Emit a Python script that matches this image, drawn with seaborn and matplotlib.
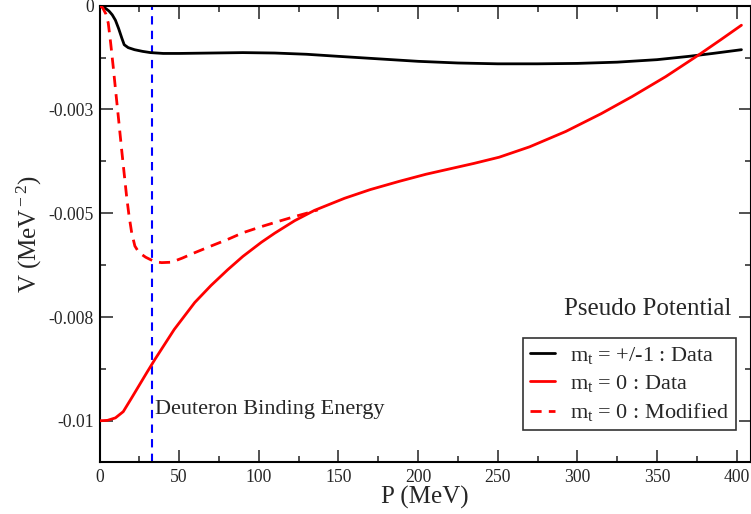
import matplotlib
matplotlib.use("Agg")
import matplotlib.pyplot as plt
import seaborn as sns
import pandas as pd
from matplotlib.ticker import MultipleLocator

# ---- data ----
p_black = [0, 2, 4, 6, 8, 10, 12, 14, 15.5, 18, 22, 27, 32, 40, 50, 70, 90, 110, 130, 150,
           175, 200, 225, 250, 275, 300, 325, 350, 370, 385, 403]
v_black = [0, -0.00002, -0.00007, -0.00013, -0.00022, -0.00035, -0.00055, -0.00078, -0.00094,
           -0.00101, -0.00106, -0.0011, -0.00113, -0.00115, -0.00115, -0.00114, -0.00113,
           -0.00114, -0.00117, -0.00122, -0.00128, -0.00134, -0.00138, -0.0014, -0.0014,
           -0.00139, -0.00136, -0.0013, -0.00122, -0.00115, -0.00106]

p_red = [0, 5, 10, 14.9, 20, 25, 30, 34.8, 46.9, 59.8, 70, 80.5, 90, 101.6, 110, 122.5, 135,
         153.8, 170, 188.3, 205, 220, 235, 250.9, 270, 292.7, 315, 334.3, 355.4, 376, 390, 403]
v_red = [-0.01, -0.00999, -0.00993, -0.00978, -0.00946, -0.00914, -0.00882, -0.00852, -0.0078,
         -0.00715, -0.00674, -0.00636, -0.00604, -0.0057, -0.00548, -0.00518, -0.00493,
         -0.00464, -0.00443, -0.00423, -0.00406, -0.00393, -0.0038, -0.00365, -0.0034,
         -0.00303, -0.0026, -0.00219, -0.00171, -0.00119, -0.00082, -0.00047]

p_mod = [0, 2, 4, 5.5, 7, 8.6, 10, 11.8, 13.9, 15.5, 17, 18.5, 20.2, 22.2, 24, 26.4, 29, 31.6,
         35, 39, 45.2, 52, 59.8, 70, 80.5, 90, 101.8, 112, 122.5, 130, 137]
v_mod = [0, -0.00005, -0.0002, -0.00042, -0.0009, -0.00147, -0.002, -0.00267, -0.00347,
         -0.00405, -0.00459, -0.00505, -0.00547, -0.00579, -0.0059, -0.00599, -0.00606,
         -0.00611, -0.00617, -0.00619, -0.00618, -0.00608, -0.00595, -0.00579, -0.00563,
         -0.00547, -0.00532, -0.0052, -0.00508, -0.005, -0.00492]

deuteron_p = 33
series_labels = [r"m$_{\rm t}$ = +/-1 : Data", r"m$_{\rm t}$ = 0 : Data", r"m$_{\rm t}$ = 0 : Modified"]
xticks = [0, 50, 100, 150, 200, 250, 300, 350, 400]
yticks = [-0.01, -0.0075, -0.005, -0.0025, 0]
ytick_labels = ["-0.01", "-0.008", "-0.005", "-0.003", "0"]

# ---- style ----
sns.set_theme(style="ticks")
plt.rcParams["font.family"] = ["Liberation Serif", "DejaVu Serif"]
plt.rcParams["mathtext.fontset"] = "custom"
plt.rcParams["mathtext.rm"] = "Liberation Serif"
plt.rcParams["mathtext.it"] = "Liberation Serif:italic"
plt.rcParams["axes.unicode_minus"] = False

fig = plt.figure(figsize=(7.51, 5.14), dpi=100)
ax = fig.add_axes([0.1325, 0.1006, 0.8675, 0.8883])

df_b = pd.DataFrame({"P": p_black, "V": v_black})
df_r = pd.DataFrame({"P": p_red, "V": v_red})
df_m = pd.DataFrame({"P": p_mod, "V": v_mod})

ax.axvline(deuteron_p, color="#0000ff", lw=1.5, dashes=(4, 3), zorder=1)
sns.lineplot(data=df_b, x="P", y="V", ax=ax, color="black", lw=2.0, sort=False,
             label=series_labels[0], zorder=3)
sns.lineplot(data=df_r, x="P", y="V", ax=ax, color="#ff0000", lw=2.0, sort=False,
             label=series_labels[1], zorder=3)
sns.lineplot(data=df_m, x="P", y="V", ax=ax, color="#ff0000", lw=2.0, sort=False,
             label=series_labels[2], zorder=3)
ax.get_lines()[-1].set_dashes((4, 2.6))

ax.set_xlim(0, 409)
ax.set_ylim(-0.011, 0)
ax.set_xticks(xticks)
ax.set_xticklabels([str(t) for t in xticks])
ax.set_yticks(yticks)
ax.set_yticklabels(ytick_labels)
ax.xaxis.set_minor_locator(MultipleLocator(25))
ax.yaxis.set_minor_locator(MultipleLocator(0.00125))

ax.tick_params(which="both", direction="in", top=True, right=True, color="#333333", width=1.2)
ax.tick_params(which="major", length=9, labelsize=12.7, pad=4.5)
ax.tick_params(which="minor", length=4.5)
ax.tick_params(axis="y", which="major", pad=4)
for s in ax.spines.values():
    s.set_linewidth(1.5)
    s.set_color("black")

ax.set_xlabel("P (MeV)", fontsize=18)
ax.set_ylabel(r"V (MeV$^{\rm -2}$)", fontsize=18)
ax.xaxis.set_label_coords(0.5, -0.077)
ax.xaxis.label.set_va("center")
ax.yaxis.set_label_coords(-0.107, 0.5)
ax.yaxis.label.set_va("center")

ax.text(35, -0.00974, "Deuteron Binding Energy", fontsize=16, va="center", ha="left")
ax.text(0.97, 0.335, "Pseudo Potential", transform=ax.transAxes, fontsize=18,
        ha="right", va="center")

leg = ax.legend(loc="lower right", bbox_to_anchor=(0.977, 0.0707), borderaxespad=0,
                fontsize=16, frameon=True, fancybox=False, shadow=False,
                handlelength=1.15, handletextpad=0.68, labelspacing=0.33, borderpad=0.3)
leg.get_frame().set_edgecolor("black")
leg.get_frame().set_linewidth(1.2)

fig.savefig("out.png", dpi=100)
